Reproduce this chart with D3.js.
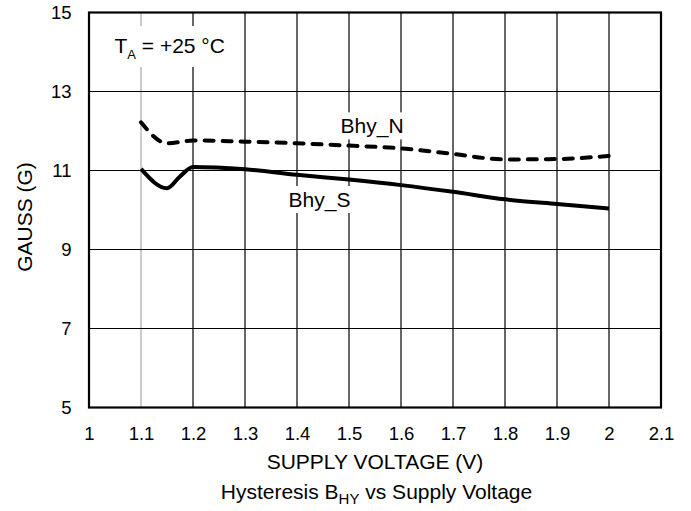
<!DOCTYPE html>
<html>
  <head>
    <meta charset="utf-8" />
    <title>Hysteresis BHY vs Supply Voltage</title>
    <script src="https://cdn.jsdelivr.net/npm/d3@7"></script>
    <style type="text/css">
      body { margin: 0; background: #fff; }
      svg { display: block; font-family: 'Liberation Sans', Arial, sans-serif; }
      .tick text { font-size: 18.5px; fill: #000; }
    </style>
  </head>
  <body>
    <svg class="plot"></svg>
    <script>
      // values
      const xTicks = [1, 1.1, 1.2, 1.3, 1.4, 1.5, 1.6, 1.7, 1.8, 1.9, 2, 2.1]
      const yTicks = [5, 7, 9, 11, 13, 15]
      const xGrid = [1.1, 1.2, 1.3, 1.4, 1.5, 1.6, 1.7, 1.8, 1.9, 2.0]
      const yGrid = [7, 9, 11, 13]

      const bhyN_v = [1.1, 1.15, 1.2, 1.3, 1.4, 1.5, 1.6, 1.7, 1.8, 1.9, 2.0]
      const bhyN_g = [12.22, 11.69, 11.76, 11.73, 11.69, 11.63, 11.56, 11.42, 11.28, 11.29, 11.37]

      const bhyS_v = [1.1, 1.15, 1.175, 1.2, 1.3, 1.4, 1.5, 1.6, 1.7, 1.8, 1.9, 2.0]
      const bhyS_g = [11.04, 10.55, 10.85, 11.09, 11.03, 10.89, 10.77, 10.63, 10.46, 10.27, 10.15, 10.04]

      const width = 691
      const height = 511
      const margin = {top: 12.5, right: 30, bottom: 103.5, left: 89}

      const x = d3.scaleLinear()
        .domain([1, 2.1])
        .range([margin.left, width - margin.right])

      const y = d3.scaleLinear()
        .domain([5, 15])
        .range([height - margin.bottom, margin.top])

      const svg = d3.select("svg.plot")
        .attr("width", width)
        .attr("height", height)
        .attr("viewBox", [0, 0, width, height])

      // grid
      svg.append("g")
        .selectAll("line")
        .data(xGrid)
        .join("line")
          .attr("x1", d => x(d)).attr("x2", d => x(d))
          .attr("y1", y(5)).attr("y2", y(15))
          .attr("stroke", (d, i) => i === 0 ? "#a8a8a8" : "#000")
          .attr("stroke-width", 1.2)

      svg.append("g")
        .selectAll("line")
        .data(yGrid)
        .join("line")
          .attr("x1", x(1)).attr("x2", x(2.1))
          .attr("y1", d => y(d)).attr("y2", d => y(d))
          .attr("stroke", "#000")
          .attr("stroke-width", 1.2)

      // axes (labels only)
      svg.append("g")
        .attr("transform", `translate(0, ${y(5)})`)
        .call(d3.axisBottom(x).tickValues(xTicks).tickSize(0).tickPadding(19)
          .tickFormat(d3.format("")))
        .call(g => g.select(".domain").remove())
        .call(g => g.selectAll("text").attr("font-family", null))

      svg.append("g")
        .attr("transform", `translate(${x(1)}, 0)`)
        .call(d3.axisLeft(y).tickValues(yTicks).tickSize(0).tickPadding(17.5))
        .call(g => g.select(".domain").remove())
        .call(g => g.selectAll("text").attr("font-family", null))

      // annotations with white backing boxes
      const note = (vx, gy, pad, build) => {
        const t = svg.append("text")
          .attr("x", x(vx))
          .attr("y", y(gy))
          .style("font-size", "21px")
          .attr("fill", "#000")
        build(t)
        const b = t.node().getBBox()
        svg.insert("rect", () => t.node())
          .attr("x", b.x - pad[0]).attr("y", b.y - pad[1])
          .attr("width", b.width + 2 * pad[0]).attr("height", b.height + pad[1] + pad[2])
          .attr("fill", "#fff")
      }

      note(1.049, 13.975, [10, 8, 5], t => {
        t.append("tspan").text("T")
        t.append("tspan").attr("dy", 6).style("font-size", "13px").text("A")
        t.append("tspan").attr("dy", -6).text(" = +25 °C")
      })
      note(1.4837, 11.94, [3, 2, 1], t => t.text("Bhy_N"))
      note(1.3837, 10.076, [3, 2, 1], t => t.text("Bhy_S"))

      // curves
      const line = d3.line()
        .x(d => x(d[0]))
        .y(d => y(d[1]))
        .curve(d3.curveMonotoneX)

      svg.append("path")
        .datum(bhyS_v.map((v, i) => [v, bhyS_g[i]]))
        .attr("d", line)
        .attr("fill", "none")
        .attr("stroke", "#000")
        .attr("stroke-width", 4)

      svg.append("path")
        .datum(bhyN_v.map((v, i) => [v, bhyN_g[i]]))
        .attr("d", line)
        .attr("fill", "none")
        .attr("stroke", "#000")
        .attr("stroke-width", 4)
        .attr("stroke-dasharray", "9,9")
        .attr("stroke-linecap", "round")

      // frame
      svg.append("rect")
        .attr("x", x(1)).attr("y", y(15))
        .attr("width", x(2.1) - x(1)).attr("height", y(5) - y(15))
        .attr("fill", "none")
        .attr("stroke", "#000")
        .attr("stroke-width", 2.2)

      // titles
      svg.append("text")
        .attr("transform", `translate(32, 217) rotate(-90)`)
        .attr("text-anchor", "middle")
        .style("font-size", "21px")
        .text("GAUSS (G)")

      svg.append("text")
        .attr("x", (x(1) + x(2.1)) / 2)
        .attr("y", 469)
        .attr("text-anchor", "middle")
        .style("font-size", "21px")
        .text("SUPPLY VOLTAGE (V)")

      const cap = svg.append("text")
        .attr("x", 376.5)
        .attr("y", 499)
        .attr("text-anchor", "middle")
        .style("font-size", "21px")
      cap.append("tspan").text("Hysteresis B")
      cap.append("tspan").attr("dy", 5).style("font-size", "15px").text("HY")
      cap.append("tspan").attr("dy", -5).text(" vs Supply Voltage")
    </script>
  </body>
</html>
